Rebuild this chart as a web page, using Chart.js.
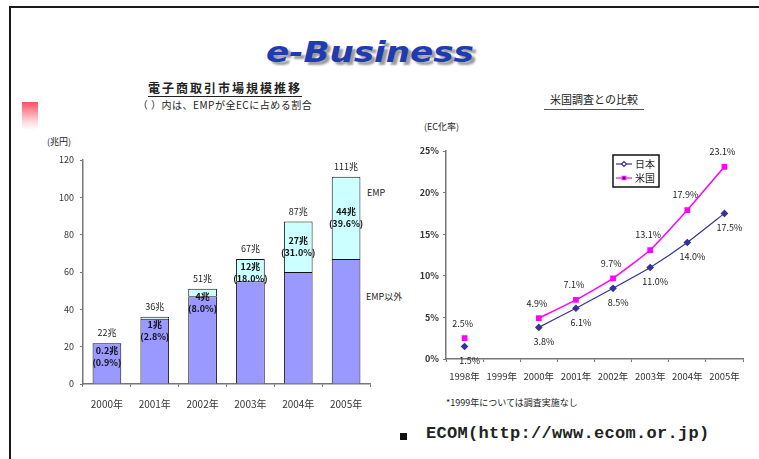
<!DOCTYPE html>
<html>
<head>
<meta charset="utf-8">
<script src="https://cdn.jsdelivr.net/npm/chart.js@4"></script>
<style>
body{margin:0;width:759px;height:459px;background:#fff;position:relative;overflow:hidden;font-family:"Noto Sans CJK JP",sans-serif;color:#222;}
.abs{position:absolute;white-space:nowrap;}
.frame{left:9px;top:6px;width:800px;height:500px;border-left:2px solid #1a1a1a;border-top:2px solid #1a1a1a;}
.logo{left:240px;top:36px;width:260px;text-align:center;font-family:"DejaVu Sans",sans-serif;font-weight:bold;font-style:italic;font-size:28px;color:#1f3bb0;text-shadow:3px 3px 2px #9a9a9a;transform:scaleX(1.22);}
.redmark{left:22px;top:102px;width:16px;height:28px;background:linear-gradient(to bottom,rgba(255,70,90,0.95),rgba(255,160,170,0.4) 70%,rgba(255,255,255,0));}
.t1{left:125px;top:79px;width:200px;text-align:center;font-size:12px;font-weight:bold;letter-spacing:2px;text-decoration:underline;text-underline-offset:3px;}
.t2{left:115px;top:97px;width:220px;text-align:center;font-size:10px;letter-spacing:0.5px;}
.t3{left:520px;top:91px;width:148px;text-align:center;font-size:11px;}
.t3 span{border-bottom:1px solid #555;padding:0 6px 2px 6px;}
.unit{font-size:9px;}
.side{font-size:9px;}
.note{left:446px;top:396px;font-size:9px;}
.bullet{left:400px;top:433px;width:7px;height:7px;background:#111;}
.ecom{left:426px;top:424px;font-family:"Liberation Mono",monospace;font-weight:bold;font-size:17px;letter-spacing:0.3px;}
</style>
</head>
<body>
<div class="abs frame"></div>
<div class="abs logo">e-Business</div>
<div class="abs redmark"></div>
<div class="abs t1">電子商取引市場規模推移</div>
<div class="abs t2">（ ）内は、EMPが全ECに占める割合</div>
<div class="abs t3"><span>米国調査との比較</span></div>
<div class="abs unit" style="left:47px;top:135px;">(兆円)</div>
<div class="abs unit" style="left:424px;top:120px;">(EC化率)</div>
<div class="abs side" style="left:367px;top:186px;">EMP</div>
<div class="abs side" style="left:366px;top:290px;">EMP以外</div>
<div class="abs note">*1999年については調査実施なし</div>
<div class="abs bullet"></div>
<div class="abs ecom">ECOM(http://www.ecom.or.jp)</div>

<div class="abs" style="left:20px;top:145px;width:360px;height:275px;"><canvas id="bar" width="360" height="275"></canvas></div>
<div class="abs" style="left:400px;top:140px;width:355px;height:255px;"><canvas id="line" width="355" height="255"></canvas></div>

<script>
// left chart: EC market size (trillion yen)
const years = ['2000年', '2001年', '2002年', '2003年', '2004年', '2005年'];
const nonEmpValues = [21.8, 35, 47, 55, 60, 67];
const empValues = [0.2, 1, 4, 12, 27, 44];
const totalLabels = ['22兆', '36兆', '51兆', '67兆', '87兆', '111兆'];
const empLabels = ['0.2兆', '1兆', '4兆', '12兆', '27兆', '44兆'];
const empShareLabels = ['(0.9%)', '(2.8%)', '(8.0%)', '(18.0%)', '(31.0%)', '(39.6%)'];
const barTicks = [0, 20, 40, 60, 80, 100, 120];

// right chart: EC ratio, Japan vs US (1999 not surveyed)
const surveyYears = ['1998年', '1999年', '2000年', '2001年', '2002年', '2003年', '2004年', '2005年'];
const japanRates = [1.5, null, 3.8, 6.1, 8.5, 11.0, 14.0, 17.5];
const usRates = [2.5, null, 4.9, 7.1, 9.7, 13.1, 17.9, 23.1];
const rateTicks = [0, 5, 10, 15, 20, 25];

const F = '"Noto Sans CJK JP", sans-serif';

var barLabels = {
    id: 'barLabels',
    afterDatasetsDraw(chart) {
        var ctx = chart.ctx;
        var meta = chart.getDatasetMeta(1);
        ctx.save();
        ctx.textAlign = 'center';
        ctx.textBaseline = 'middle';
        meta.data.forEach(function (el, i) {
            ctx.fillStyle = '#222';
            ctx.font = '9px ' + F;
            ctx.fillText(totalLabels[i], el.x, el.y - 10);
            var cy = Math.max(el.y + 14, (el.y + el.base) / 2);
            ctx.font = 'bold 9px ' + F;
            ctx.fillStyle = '#111';
            ctx.fillText(empLabels[i], el.x, cy - 6);
            ctx.fillText(empShareLabels[i], el.x, cy + 6);
        });
        ctx.restore();
    }
};

var lineLabels = {
    id: 'lineLabels',
    afterDatasetsDraw(chart) {
        var ctx = chart.ctx;
        ctx.save();
        ctx.font = '9px ' + F;
        ctx.fillStyle = '#222';
        ctx.textAlign = 'center';
        ctx.textBaseline = 'middle';
        chart.data.datasets.forEach(function (ds, d) {
            chart.getDatasetMeta(d).data.forEach(function (pt, i) {
                if (ds.data[i] === null) return;
                var txt = ds.data[i].toFixed(1) + '%';
                if (d === 1) ctx.fillText(txt, pt.x - 2, pt.y - 15);
                else ctx.fillText(txt, pt.x + 5, pt.y + 14);
            });
        });
        // legend box
        var a = chart.chartArea;
        var bx = a.left + 167, by = a.top + 4, bw = 46, bh = 32;
        ctx.fillStyle = '#fff';
        ctx.fillRect(bx, by, bw, bh);
        ctx.strokeStyle = '#111';
        ctx.lineWidth = 1.5;
        ctx.strokeRect(bx, by, bw, bh);
        ctx.textAlign = 'left';
        ctx.font = '10px ' + F;
        chart.data.datasets.forEach(function (ds, d) {
            var ry = by + 9 + d * 14;
            ctx.strokeStyle = ds.borderColor;
            ctx.lineWidth = 1.2;
            ctx.beginPath();
            ctx.moveTo(bx + 3, ry);
            ctx.lineTo(bx + 19, ry);
            ctx.stroke();
            Chart.helpers.drawPoint(ctx, {pointStyle: ds.pointStyle, radius: 2.5, borderWidth: 1}, bx + 11, ry);
            ctx.fillStyle = '#222';
            ctx.fillText(ds.label, bx + 22, ry);
        });
        ctx.restore();
    }
};

new Chart(document.getElementById('bar'), {
    type: 'bar',
    data: {
        labels: years,
        datasets: [
            {label: 'EMP以外', data: nonEmpValues, backgroundColor: '#9999ff', borderColor: '#111', borderWidth: 1},
            {label: 'EMP', data: empValues, backgroundColor: '#ccffff', borderColor: '#111', borderWidth: 1},
        ]
    },
    options: {
        responsive: false,
        animation: false,
        layout: {padding: {top: 15, right: 10}},
        plugins: {legend: {display: false}, tooltip: {enabled: false}},
        datasets: {bar: {categoryPercentage: 1, barPercentage: 0.6}},
        scales: {
            x: {
                stacked: true,
                grid: {drawOnChartArea: false, tickLength: 3, color: '#777', offset: true},
                border: {color: '#777', width: 1.5},
                ticks: {font: {size: 10, family: F}, color: '#333', maxRotation: 0, autoSkip: false, padding: 11},
                afterFit: function (s) { s.height = 36; }
            },
            y: {
                stacked: true,
                min: barTicks[0],
                max: barTicks[barTicks.length - 1],
                afterBuildTicks: function (s) { s.ticks = barTicks.map(v => ({value: v})); },
                grid: {drawOnChartArea: false, tickLength: 3, color: '#777'},
                border: {color: '#777', width: 1.5},
                ticks: {font: {size: 9, family: F}, color: '#333', padding: 6},
                afterFit: function (s) { s.width = 63; }
            }
        }
    },
    plugins: [barLabels]
});

new Chart(document.getElementById('line'), {
    type: 'line',
    data: {
        labels: surveyYears,
        datasets: [
            {label: '日本', data: japanRates, borderColor: '#333399', backgroundColor: '#333399', pointStyle: 'rectRot', pointRadius: 3, borderWidth: 1.2, tension: 0.15, spanGaps: false},
            {label: '米国', data: usRates, borderColor: '#ff00ff', backgroundColor: '#ff00ff', pointStyle: 'rect', pointRadius: 3, borderWidth: 1.5, tension: 0.15, spanGaps: false},
        ]
    },
    options: {
        responsive: false,
        animation: false,
        layout: {padding: {top: 11, right: 12}},
        plugins: {legend: {display: false}, tooltip: {enabled: false}},
        scales: {
            x: {
                offset: true,
                grid: {drawOnChartArea: false, tickLength: 3, color: '#777', offset: true},
                border: {color: '#777', width: 1.5},
                ticks: {font: {size: 9.5, family: F}, color: '#333', maxRotation: 0, autoSkip: false, padding: 9},
                afterFit: function (s) { s.height = 36; }
            },
            y: {
                min: rateTicks[0],
                max: rateTicks[rateTicks.length - 1],
                afterBuildTicks: function (s) { s.ticks = rateTicks.map(v => ({value: v})); },
                grid: {drawOnChartArea: false, tickLength: 3, color: '#777'},
                border: {color: '#777', width: 1.5},
                ticks: {font: {size: 9, family: F, weight: 'bold'}, color: '#333', padding: 4, callback: v => v + '%'},
                afterFit: function (s) { s.width = 46; }
            }
        }
    },
    plugins: [lineLabels]
});
</script>
</body>
</html>
